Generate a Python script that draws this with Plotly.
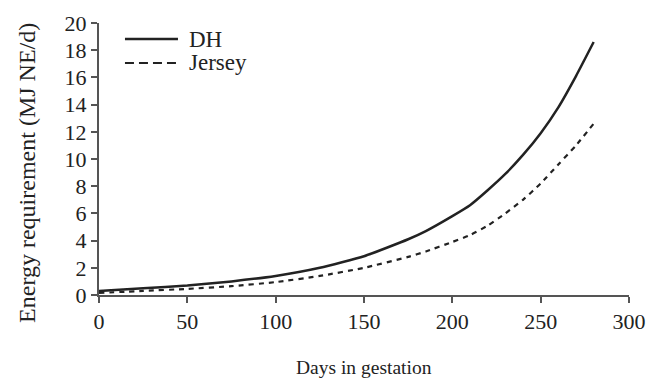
import plotly.graph_objects as go

# Daily energy requirement for pregnancy by breed
days = [0, 25, 50, 75, 100, 125, 150, 175, 185, 200, 210, 220, 230, 240, 250, 260, 270, 280]
dh = [0.3, 0.5, 0.7, 1.0, 1.4, 2.0, 2.85, 4.1, 4.7, 5.8, 6.6, 7.7, 8.9, 10.3, 11.9, 13.8, 16.1, 18.6]
jersey = [0.15, 0.3, 0.45, 0.65, 0.95, 1.4, 2.0, 2.8, 3.2, 3.9, 4.4, 5.1, 6.0, 7.0, 8.2, 9.6, 11.0, 12.6]

x_ticks = [0, 50, 100, 150, 200, 250, 300]
y_ticks = [0, 2, 4, 6, 8, 10, 12, 14, 16, 18, 20]

font_family = "Liberation Serif"
ink = "#222222"
axis_col = "#555555"

series = [
    ("DH", dh, dict(color=ink, width=2.5), dict(color=ink, width=2.5)),
    ("Jersey", jersey, dict(color=ink, width=2.2, dash="5px,5px"), dict(color=ink, width=2.2, dash="9px,5px")),
]

fig = go.Figure()
for name, vals, style, _ in series:
    fig.add_trace(go.Scatter(
        x=days, y=vals, name=name, mode="lines",
        line=dict(shape="spline", smoothing=0.5, **style),
    ))

# Key in the upper-left corner: sample line plus label per series
key_y = [0.941, 0.853]
for (name, _, _, key_style), ky in zip(series, key_y):
    fig.add_shape(type="line", xref="paper", yref="paper",
                  x0=0.049, x1=0.149, y0=ky, y1=ky, line=key_style)
    fig.add_annotation(text=name, xref="paper", yref="paper", x=0.166, y=ky,
                       xanchor="left", yanchor="middle", showarrow=False,
                       font=dict(family=font_family, size=23, color=ink))

# Axis titles
fig.add_annotation(text="Days in gestation", xref="paper", yref="paper",
                   x=0.5, y=-0.265, xanchor="center", yanchor="middle", showarrow=False,
                   font=dict(family=font_family, size=19.5, color=ink))
fig.add_annotation(text="Energy requirement (MJ NE/d)", xref="paper", yref="paper",
                   x=-0.136, y=0.4485, xanchor="center", yanchor="middle", showarrow=False,
                   textangle=-90, font=dict(family=font_family, size=24, color=ink))

fig.update_layout(
    width=649, height=378,
    margin=dict(l=99, r=20, t=23, b=83),
    paper_bgcolor="white", plot_bgcolor="white",
    font=dict(family=font_family, size=20, color=ink),
    showlegend=False,
    xaxis=dict(
        range=[0, 300], tickvals=x_ticks, ticktext=[str(v) for v in x_ticks],
        showgrid=False, zeroline=False, showline=True, linecolor=axis_col, linewidth=2,
        ticks="outside", ticklen=6, tickcolor=axis_col, tickwidth=1.5,
        tickfont=dict(family=font_family, size=22, color=ink),
        automargin=False,
    ),
    yaxis=dict(
        range=[0, 20], tickvals=y_ticks, ticktext=[str(v) for v in y_ticks],
        showgrid=False, zeroline=False, showline=True, linecolor=axis_col, linewidth=2,
        ticks="outside", ticklen=6, tickcolor=axis_col, tickwidth=1.5,
        tickfont=dict(family=font_family, size=22, color=ink),
        automargin=False,
    ),
)

fig.write_html("out.html")
